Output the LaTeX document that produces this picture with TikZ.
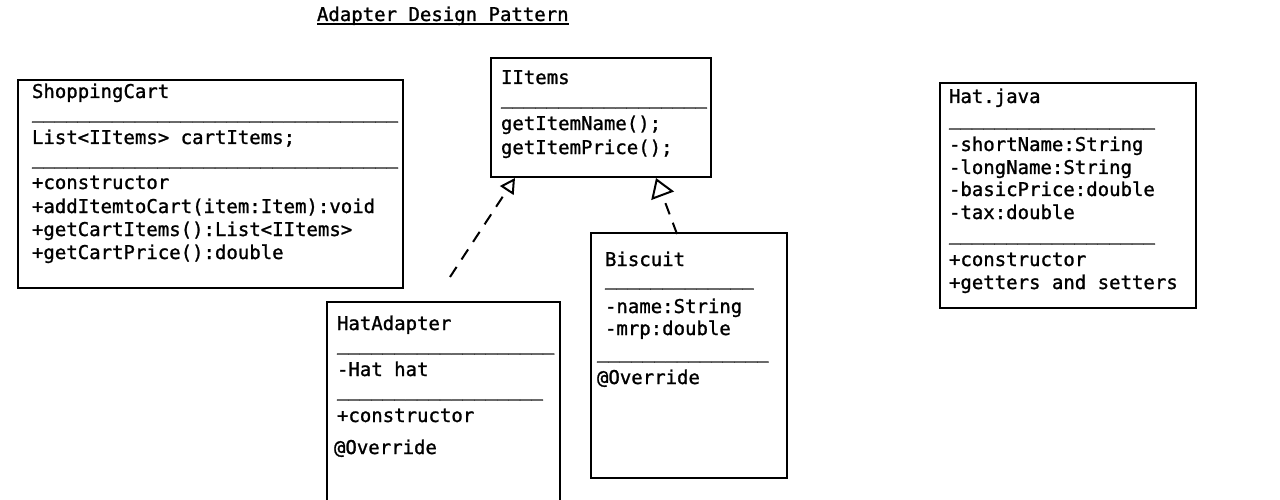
\documentclass[tikz,border=0pt]{standalone}
\usepackage{fontspec}
\usetikzlibrary{arrows.meta}
\newfontfamily\codefont[FakeBold=1.2]{DejaVu Sans Mono}
\newcommand\bars[1]{\foreach \i in {1,...,#1}{\_}}
\tikzset{
  umlbox/.style={draw=black, line width=2.7pt, rectangle, inner sep=0pt, outer sep=0pt, anchor=north west},
  txt/.style={inner sep=0pt, outer sep=0pt, anchor=base west, font=\codefont\fontsize{19}{23}\selectfont, text=black},
  realize/.style={line width=2pt, dash pattern=on 12pt off 9pt},
}
\begin{document}
\begin{tikzpicture}[x=1pt,y=-1pt]
\useasboundingbox (0,0) rectangle (1280,500);
\fill[white] (0,0) rectangle (1280,500);

% title
\node[txt] (title) at (317,21) {Adapter Design Pattern};
\draw[line width=1.5pt] ([yshift=-3pt]title.base west) -- ([yshift=-3pt]title.base east);

% ShoppingCart
\node[umlbox, minimum width=385pt, minimum height=208pt] (cart) at (18,80) {};
\node[txt] (cart1) at (32,98) {ShoppingCart};
\node[txt] (cart2) at (32,118) {\bars{32}};
\node[txt] (cart3) at (32,144) {List<IItems> cartItems;};
\node[txt] (cart4) at (32,164) {\bars{32}};
\node[txt] (cart5) at (32,189) {+constructor};
\node[txt] (cart6) at (32,213) {+addItemtoCart(item:Item):void};
\node[txt] (cart7) at (32,236) {+getCartItems():List<IItems>};
\node[txt] (cart8) at (32,259) {+getCartPrice():double};

% IItems
\node[umlbox, minimum width=220pt, minimum height=119pt] (items) at (491,58) {};
\node[txt] (items1) at (501,84) {IItems};
\node[txt] (items2) at (501,104) {\bars{18}};
\node[txt] (items3) at (501,130) {getItemName();};
\node[txt] (items4) at (501,154) {getItemPrice();};

% HatAdapter
\node[umlbox, minimum width=233pt, minimum height=210pt] (adapter) at (327,302) {};
\node[txt] (ad1) at (337,330) {HatAdapter};
\node[txt] (ad2) at (337,350) {\bars{19}};
\node[txt] (ad3) at (337,376) {-Hat hat};
\node[txt] (ad4) at (337,396) {\bars{18}};
\node[txt] (ad5) at (337,422) {+constructor};
\node[txt] (ad6) at (334,454) {@Override};

% Biscuit
\node[umlbox, minimum width=196pt, minimum height=245pt] (biscuit) at (591,233) {};
\node[txt] (bi1) at (605,266) {Biscuit};
\node[txt] (bi2) at (605,285) {\bars{13}};
\node[txt] (bi3) at (605,313) {-name:String};
\node[txt] (bi4) at (605,335) {-mrp:double};
\node[txt] (bi5) at (597,358) {\bars{15}};
\node[txt] (bi6) at (597,384) {@Override};

% Hat.java
\node[umlbox, minimum width=256pt, minimum height=225pt] (hat) at (940,83) {};
\node[txt] (hat1) at (949,103) {Hat.java};
\node[txt] (hat2) at (949,125) {\bars{18}};
\node[txt] (hat3) at (949,151) {-shortName:String};
\node[txt] (hat4) at (949,174) {-longName:String};
\node[txt] (hat5) at (949,196) {-basicPrice:double};
\node[txt] (hat6) at (949,219) {-tax:double};
\node[txt] (hat7) at (949,240) {\bars{18}};
\node[txt] (hat8) at (949,266) {+constructor};
\node[txt] (hat9) at (949,289) {+getters and setters};

% realizations
\coordinate (adStart) at (450,277);
\coordinate (itemsL) at (515,178);
\coordinate (biStart) at (677,234);
\coordinate (itemsR) at (656,178);
\draw[realize, -{Triangle[open, length=15pt, width=16pt, line width=2pt]}] (adStart) -- (itemsL);
\draw[realize, -{Triangle[open, length=19pt, width=24pt, line width=2pt]}] (biStart) -- (itemsR);
\end{tikzpicture}
\end{document}
